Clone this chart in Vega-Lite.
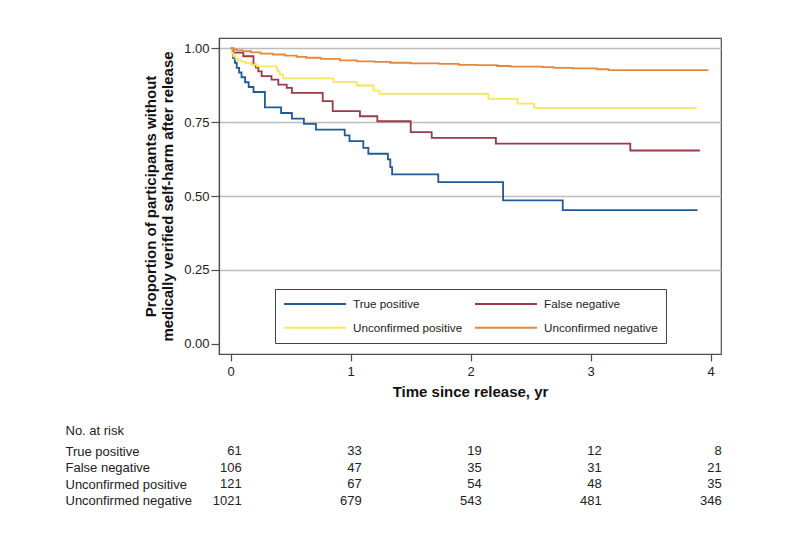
{
  "$schema": "https://vega.github.io/schema/vega-lite/v6.json",
  "padding": {"left": 65, "top": 37, "right": 10, "bottom": 10},
  "background": "white",
  "datasets": {
    "curves": [
      {"group": "True positive", "time": 0, "surv": 1.0},
      {"group": "True positive", "time": 0.01, "surv": 0.984},
      {"group": "True positive", "time": 0.02, "surv": 0.967},
      {"group": "True positive", "time": 0.035, "surv": 0.951},
      {"group": "True positive", "time": 0.05, "surv": 0.934},
      {"group": "True positive", "time": 0.07, "surv": 0.918},
      {"group": "True positive", "time": 0.09, "surv": 0.902},
      {"group": "True positive", "time": 0.12, "surv": 0.885},
      {"group": "True positive", "time": 0.15, "surv": 0.869},
      {"group": "True positive", "time": 0.19, "surv": 0.852},
      {"group": "True positive", "time": 0.285, "surv": 0.8},
      {"group": "True positive", "time": 0.42, "surv": 0.781},
      {"group": "True positive", "time": 0.51, "surv": 0.762},
      {"group": "True positive", "time": 0.61, "surv": 0.744},
      {"group": "True positive", "time": 0.71, "surv": 0.725},
      {"group": "True positive", "time": 0.95, "surv": 0.705},
      {"group": "True positive", "time": 0.99, "surv": 0.686},
      {"group": "True positive", "time": 1.105, "surv": 0.663},
      {"group": "True positive", "time": 1.147, "surv": 0.643},
      {"group": "True positive", "time": 1.31, "surv": 0.624},
      {"group": "True positive", "time": 1.33, "surv": 0.598},
      {"group": "True positive", "time": 1.345, "surv": 0.573},
      {"group": "True positive", "time": 1.73, "surv": 0.547},
      {"group": "True positive", "time": 2.27, "surv": 0.485},
      {"group": "True positive", "time": 2.767, "surv": 0.452},
      {"group": "True positive", "time": 3.89, "surv": 0.452},
      {"group": "False negative", "time": 0, "surv": 1.0},
      {"group": "False negative", "time": 0.022, "surv": 0.985},
      {"group": "False negative", "time": 0.105, "surv": 0.973},
      {"group": "False negative", "time": 0.19, "surv": 0.945},
      {"group": "False negative", "time": 0.21, "surv": 0.935},
      {"group": "False negative", "time": 0.23, "surv": 0.922},
      {"group": "False negative", "time": 0.258, "surv": 0.906},
      {"group": "False negative", "time": 0.34, "surv": 0.894},
      {"group": "False negative", "time": 0.397, "surv": 0.877},
      {"group": "False negative", "time": 0.467, "surv": 0.866},
      {"group": "False negative", "time": 0.51, "surv": 0.849},
      {"group": "False negative", "time": 0.767, "surv": 0.821},
      {"group": "False negative", "time": 0.85, "surv": 0.787},
      {"group": "False negative", "time": 1.077, "surv": 0.77},
      {"group": "False negative", "time": 1.222, "surv": 0.753},
      {"group": "False negative", "time": 1.5, "surv": 0.716},
      {"group": "False negative", "time": 1.675, "surv": 0.697},
      {"group": "False negative", "time": 2.21, "surv": 0.677},
      {"group": "False negative", "time": 3.33, "surv": 0.654},
      {"group": "False negative", "time": 3.91, "surv": 0.654},
      {"group": "Unconfirmed positive", "time": 0, "surv": 1.0},
      {"group": "Unconfirmed positive", "time": 0.01, "surv": 0.984},
      {"group": "Unconfirmed positive", "time": 0.022, "surv": 0.973},
      {"group": "Unconfirmed positive", "time": 0.04, "surv": 0.965},
      {"group": "Unconfirmed positive", "time": 0.063, "surv": 0.959},
      {"group": "Unconfirmed positive", "time": 0.09, "surv": 0.955},
      {"group": "Unconfirmed positive", "time": 0.119, "surv": 0.951},
      {"group": "Unconfirmed positive", "time": 0.17, "surv": 0.945},
      {"group": "Unconfirmed positive", "time": 0.217, "surv": 0.939},
      {"group": "Unconfirmed positive", "time": 0.383, "surv": 0.928},
      {"group": "Unconfirmed positive", "time": 0.395, "surv": 0.92},
      {"group": "Unconfirmed positive", "time": 0.41, "surv": 0.911},
      {"group": "Unconfirmed positive", "time": 0.438, "surv": 0.898},
      {"group": "Unconfirmed positive", "time": 0.855, "surv": 0.886},
      {"group": "Unconfirmed positive", "time": 1.05, "surv": 0.874},
      {"group": "Unconfirmed positive", "time": 1.19, "surv": 0.857},
      {"group": "Unconfirmed positive", "time": 1.24, "surv": 0.846},
      {"group": "Unconfirmed positive", "time": 2.147, "surv": 0.829},
      {"group": "Unconfirmed positive", "time": 2.39, "surv": 0.813},
      {"group": "Unconfirmed positive", "time": 2.53, "surv": 0.798},
      {"group": "Unconfirmed positive", "time": 3.883, "surv": 0.798},
      {"group": "Unconfirmed negative", "time": 0, "surv": 1.0},
      {"group": "Unconfirmed negative", "time": 0.02, "surv": 0.996},
      {"group": "Unconfirmed negative", "time": 0.05, "surv": 0.993},
      {"group": "Unconfirmed negative", "time": 0.1, "surv": 0.99},
      {"group": "Unconfirmed negative", "time": 0.17, "surv": 0.986},
      {"group": "Unconfirmed negative", "time": 0.25, "surv": 0.982},
      {"group": "Unconfirmed negative", "time": 0.35, "surv": 0.979},
      {"group": "Unconfirmed negative", "time": 0.45, "surv": 0.975},
      {"group": "Unconfirmed negative", "time": 0.55, "surv": 0.971},
      {"group": "Unconfirmed negative", "time": 0.63, "surv": 0.968},
      {"group": "Unconfirmed negative", "time": 0.75, "surv": 0.964},
      {"group": "Unconfirmed negative", "time": 0.91, "surv": 0.959},
      {"group": "Unconfirmed negative", "time": 1.05, "surv": 0.956},
      {"group": "Unconfirmed negative", "time": 1.2, "surv": 0.954},
      {"group": "Unconfirmed negative", "time": 1.33, "surv": 0.951},
      {"group": "Unconfirmed negative", "time": 1.5, "surv": 0.949},
      {"group": "Unconfirmed negative", "time": 1.74, "surv": 0.947},
      {"group": "Unconfirmed negative", "time": 1.9, "surv": 0.944},
      {"group": "Unconfirmed negative", "time": 2.05, "surv": 0.943},
      {"group": "Unconfirmed negative", "time": 2.22, "surv": 0.94},
      {"group": "Unconfirmed negative", "time": 2.33, "surv": 0.938},
      {"group": "Unconfirmed negative", "time": 2.6, "surv": 0.936},
      {"group": "Unconfirmed negative", "time": 2.69, "surv": 0.934},
      {"group": "Unconfirmed negative", "time": 2.85, "surv": 0.932},
      {"group": "Unconfirmed negative", "time": 3.05, "surv": 0.929},
      {"group": "Unconfirmed negative", "time": 3.15, "surv": 0.926},
      {"group": "Unconfirmed negative", "time": 3.98, "surv": 0.926}
    ],
    "risk": [
      {"group": "True positive", "time": 0, "n": 61},
      {"group": "True positive", "time": 1, "n": 33},
      {"group": "True positive", "time": 2, "n": 19},
      {"group": "True positive", "time": 3, "n": 12},
      {"group": "True positive", "time": 4, "n": 8},
      {"group": "False negative", "time": 0, "n": 106},
      {"group": "False negative", "time": 1, "n": 47},
      {"group": "False negative", "time": 2, "n": 35},
      {"group": "False negative", "time": 3, "n": 31},
      {"group": "False negative", "time": 4, "n": 21},
      {"group": "Unconfirmed positive", "time": 0, "n": 121},
      {"group": "Unconfirmed positive", "time": 1, "n": 67},
      {"group": "Unconfirmed positive", "time": 2, "n": 54},
      {"group": "Unconfirmed positive", "time": 3, "n": 48},
      {"group": "Unconfirmed positive", "time": 4, "n": 35},
      {"group": "Unconfirmed negative", "time": 0, "n": 1021},
      {"group": "Unconfirmed negative", "time": 1, "n": 679},
      {"group": "Unconfirmed negative", "time": 2, "n": 543},
      {"group": "Unconfirmed negative", "time": 3, "n": 481},
      {"group": "Unconfirmed negative", "time": 4, "n": 346}
    ]
  },
  "bounds": "flush",
  "spacing": 88.75,
  "resolve": {"scale": {"x": "independent", "y": "independent"}},
  "vconcat": [
    {
      "width": 502,
      "height": 316,
      "view": {"stroke": "#4d4d4d", "strokeWidth": 1.2},
      "data": {"name": "curves"},
      "mark": {"type": "line", "interpolate": "step-after", "strokeWidth": 1.8},
      "encoding": {
        "x": {
          "field": "time", "type": "quantitative",
          "scale": {"domain": [-0.0975, 4.086], "nice": false, "zero": false},
          "axis": {
            "values": [0, 1, 2, 3, 4], "format": "d", "grid": false,
            "title": "Time since release, yr",
            "tickSize": 7, "labelPadding": 4, "titlePadding": 6,
            "labelFontSize": 13, "titleFontSize": 15, "titleFontWeight": "bold"
          }
        },
        "y": {
          "field": "surv", "type": "quantitative",
          "scale": {"domain": [-0.0348, 1.0348], "nice": false, "zero": false},
          "axis": {
            "values": [0, 0.25, 0.5, 0.75, 1], "format": ".2f",
            "title": ["Proportion of participants without", "medically verified self-harm after release"],
            "tickSize": 8, "labelPadding": 2, "titlePadding": 8,
            "labelFontSize": 13, "titleFontSize": 15, "titleFontWeight": "bold", "titleLineHeight": 17,
            "grid": true, "gridColor": "#bdbdbd", "gridWidth": 1.3,
            "gridOpacity": {"condition": {"test": "datum.value === 0", "value": 0}, "value": 1}
          }
        },
        "color": {
          "field": "group", "type": "nominal",
          "scale": {
            "domain": ["True positive", "Unconfirmed positive", "False negative", "Unconfirmed negative"],
            "range": ["#1f5b98", "#f6e65e", "#9c3a47", "#e6883c"]
          },
          "legend": {
            "title": null, "orient": "none", "legendX": 56, "legendY": 251,
            "columns": 2, "symbolType": "stroke", "symbolSize": 3844, "symbolStrokeWidth": 2,
            "clipHeight": 14, "rowPadding": 9.7, "columnPadding": 11, "labelOffset": 6,
            "labelFontSize": 11.7, "labelColor": "#222", "labelLimit": 300,
            "padding": 8, "strokeColor": "#444", "fillColor": "white", "symbolOffset": 0
          }
        }
      }
    },
    {
      "width": 502,
      "height": 66,
      "data": {"name": "risk"},
      "mark": {"type": "text", "align": "right", "dx": 11, "baseline": "middle", "fontSize": 13, "color": "#222"},
      "encoding": {
        "x": {
          "field": "time", "type": "quantitative",
          "scale": {"domain": [-0.0975, 4.086], "nice": false, "zero": false},
          "axis": null
        },
        "y": {
          "field": "group", "type": "nominal",
          "scale": {"type": "point", "padding": 0.5, "domain": ["True positive", "False negative", "Unconfirmed positive", "Unconfirmed negative"]},
          "axis": {
            "title": "No. at risk", "titleAngle": 0, "titleAlign": "left", "titleBaseline": "middle",
            "titleX": -154, "titleY": -12.75, "titleFontWeight": "normal", "titleFontSize": 13, "titleColor": "#222",
            "labelAlign": "left", "labelPadding": 154, "ticks": false, "tickSize": 0, "domain": false,
            "labelFontSize": 13, "labelColor": "#222", "grid": false
          }
        },
        "text": {"field": "n", "type": "quantitative"}
      }
    }
  ],
  "config": {
    "font": "Liberation Sans",
    "view": {"stroke": null},
    "axis": {
      "domainColor": "#4d4d4d", "domainWidth": 1.2, "tickColor": "#4d4d4d", "tickWidth": 1.2,
      "labelColor": "#222", "titleColor": "#111"
    }
  }
}
